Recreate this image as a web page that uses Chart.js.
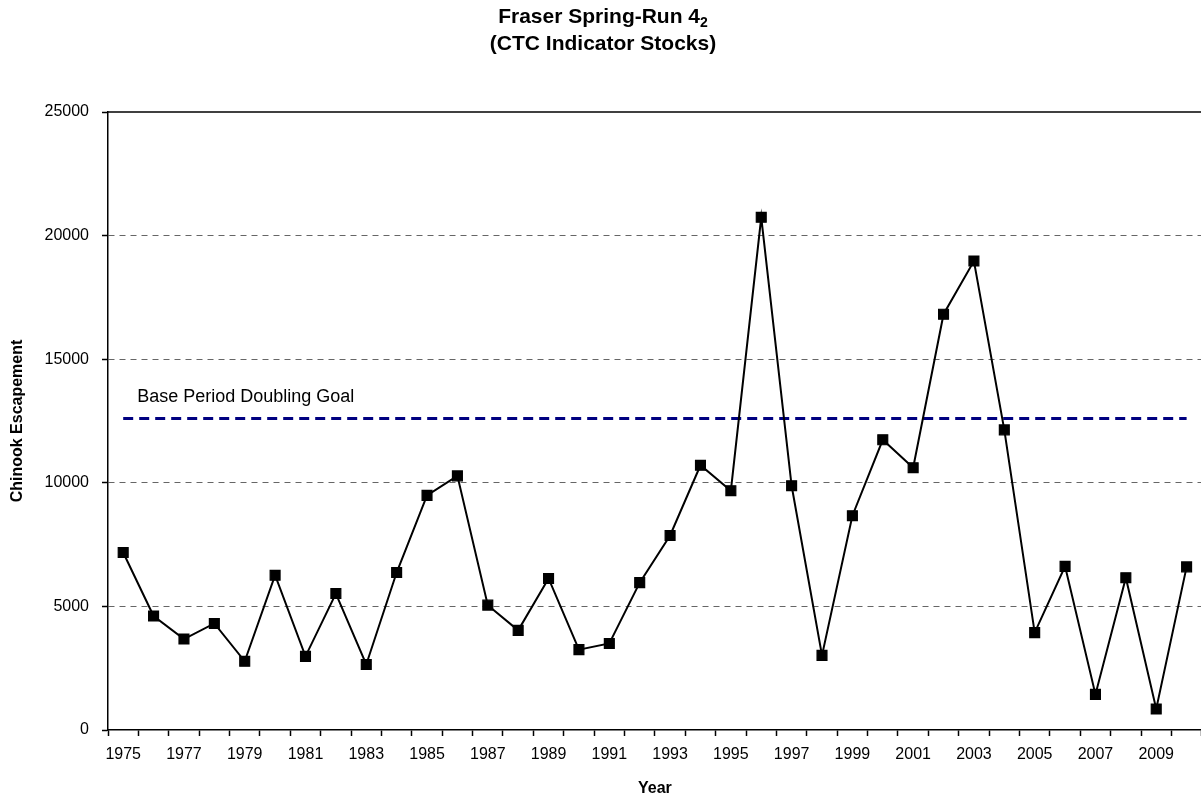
<!DOCTYPE html>
<html>
<head>
<meta charset="utf-8">
<title>Fraser Spring-Run 4₂</title>
<script src="https://cdn.jsdelivr.net/npm/chart.js@4/dist/chart.umd.min.js"></script>
<style>
  html, body { margin: 0; padding: 0; overflow: hidden; background: #fff; }
  #wrap { width: 1210px; height: 798px; }
  canvas { display: block; }
</style>
</head>
<body>
<div id="wrap"><canvas id="escChart" width="1210" height="798"></canvas></div>
<script>
// Data
const years = [
  '1975', '1976', '1977', '1978', '1979', '1980', '1981', '1982', '1983',
  '1984', '1985', '1986', '1987', '1988', '1989', '1990', '1991', '1992',
  '1993', '1994', '1995', '1996', '1997', '1998', '1999', '2000', '2001',
  '2002', '2003', '2004', '2005', '2006', '2007', '2008', '2009', '2010'
];
const escapement = [
  7180, 4610, 3680, 4310, 2780, 6260, 2980, 5520, 2650,
  6370, 9490, 10280, 5050, 4030, 6130, 3250, 3500, 5960,
  7870, 10710, 9680, 20740, 9880, 3020, 8670, 11740, 10610,
  16820, 18970, 12140, 3940, 6620, 1440, 6160, 850, 6600
];
const yTicks = [0, 5000, 10000, 15000, 20000, 25000];
const goalValue = 12600;
const goalLabel = 'Base Period Doubling Goal';
const titleMain = 'Fraser Spring-Run 4';
const titleSub = '2';
const titleLine2 = '(CTC Indicator Stocks)';

const FONT = "'Liberation Sans', Arial, sans-serif";

/**
 * Draws the dashed goal line and its label, plus the top frame line.
 */
const goalPlugin = {
  id: 'goalLine',
  beforeDatasetsDraw(chart) {
    const { ctx, chartArea, scales } = chart;
    const x0 = scales.x.getPixelForValue(0);
    const x1 = scales.x.getPixelForValue(years.length - 1);
    const y = scales.y.getPixelForValue(goalValue);

    ctx.save();
    // top frame line
    ctx.strokeStyle = '#000';
    ctx.lineWidth = 1.5;
    ctx.beginPath();
    ctx.moveTo(chartArea.left, chartArea.top);
    ctx.lineTo(chartArea.right, chartArea.top);
    ctx.stroke();

    // goal line
    ctx.strokeStyle = '#000080';
    ctx.lineWidth = 3;
    ctx.setLineDash([10, 6]);
    ctx.beginPath();
    ctx.moveTo(x0, y);
    ctx.lineTo(x1, y);
    ctx.stroke();

    ctx.setLineDash([]);
    ctx.fillStyle = '#000';
    ctx.font = '18px ' + FONT;
    ctx.textAlign = 'left';
    ctx.textBaseline = 'middle';
    ctx.fillText(goalLabel, x0 + 14, y - 21);
    ctx.restore();
  }
};

/**
 * Title with a real subscript. The built-in title keeps the space,
 * this draws the visible text on top of it.
 */
const titlePlugin = {
  id: 'subTitle',
  afterDraw(chart) {
    const ctx = chart.ctx;
    const cx = 603;
    ctx.save();
    ctx.fillStyle = '#000';
    ctx.textBaseline = 'alphabetic';
    ctx.textAlign = 'left';

    const big = 'bold 21px ' + FONT;
    const small = 'bold 14px ' + FONT;
    ctx.font = big;
    const wMain = ctx.measureText(titleMain).width;
    ctx.font = small;
    const wSub = ctx.measureText(titleSub).width;
    const start = cx - (wMain + wSub) / 2;
    ctx.font = big;
    ctx.fillText(titleMain, start, 23);
    ctx.font = small;
    ctx.fillText(titleSub, start + wMain, 27);

    ctx.font = big;
    ctx.textAlign = 'center';
    ctx.fillText(titleLine2, cx, 50);
    ctx.restore();
  }
};

function renderChart(canvas) {
  return new Chart(canvas, {
    type: 'line',
    data: {
      labels: years,
      datasets: [
        {
          label: 'Chinook Escapement',
          data: escapement,
          borderColor: '#000',
          borderWidth: 2,
          backgroundColor: '#000',
          pointStyle: 'rect',
          pointRadius: 7,
          pointBorderWidth: 1.2,
          pointBackgroundColor: '#000',
          pointBorderColor: '#000',
          tension: 0,
          fill: false
        }
      ]
    },
    options: {
      responsive: false,
      animation: false,
      layout: { padding: { left: 0, right: 4, top: 0, bottom: 0 } },
      plugins: {
        legend: { display: false },
        tooltip: { enabled: false },
        title: {
          display: true,
          text: ['Fraser Spring-Run 4₂', '(CTC Indicator Stocks)'],
          color: 'rgba(0,0,0,0)',
          font: { family: FONT, size: 20, weight: 'bold', lineHeight: 1.4 },
          padding: { top: 3, bottom: 53 }
        }
      },
      scales: {
        x: {
          type: 'category',
          offset: true,
          grid: {
            offset: true,
            drawOnChartArea: false,
            drawTicks: true,
            tickLength: 6,
            tickColor: '#000',
            tickWidth: 1.5
          },
          border: { color: '#000', width: 1.5 },
          ticks: {
            autoSkip: false,
            maxRotation: 0,
            minRotation: 0,
            padding: 9,
            color: '#000',
            font: { family: FONT, size: 16 },
            callback: function (value, index) {
              return index % 2 === 0 ? this.getLabelForValue(value) : '';
            }
          },
          title: {
            display: true,
            text: 'Year',
            color: '#000',
            font: { family: FONT, size: 16, weight: 'bold' },
            padding: { top: 12, bottom: 0 }
          },
          afterFit: (scale) => { scale.height = 68; }
        },
        y: {
          min: 0,
          max: 25000,
          afterBuildTicks: (scale) => {
            scale.ticks = yTicks.map(v => ({ value: v }));
          },
          grid: {
            color: (ctx) => {
              const v = ctx.tick && ctx.tick.value;
              return (v === 0 || v === 25000) ? 'rgba(0,0,0,0)' : '#666';
            },
            lineWidth: 1,
            drawTicks: true,
            tickLength: 6,
            tickColor: '#000',
            tickWidth: 1.5,
            tickBorderDash: [1, 0]
          },
          border: { color: '#000', width: 1.5, dash: [6, 5] },
          ticks: {
            padding: 13,
            color: '#000',
            font: { family: FONT, size: 16 },
            callback: (value) => String(value)
          },
          title: {
            display: true,
            text: 'Chinook Escapement',
            color: '#000',
            font: { family: FONT, size: 16, weight: 'bold' },
            padding: { top: 8, bottom: 0 }
          },
          afterFit: (scale) => { scale.width = 108; }
        }
      }
    },
    plugins: [goalPlugin, titlePlugin]
  });
}

function init() {
  renderChart(document.getElementById('escChart'));
}

if (document.readyState === 'loading') {
  document.addEventListener('DOMContentLoaded', init);
} else {
  init();
}
</script>
</body>
</html>
